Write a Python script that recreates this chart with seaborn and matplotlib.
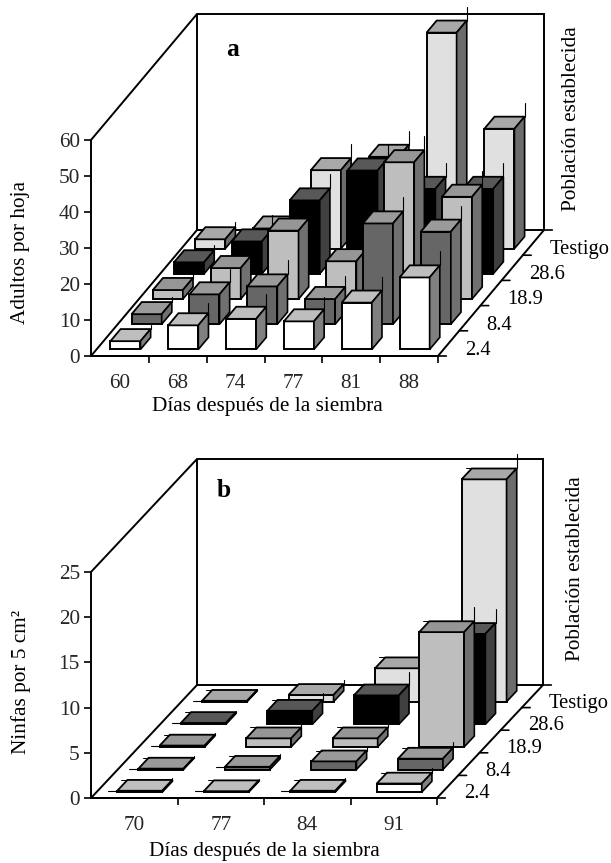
import matplotlib
matplotlib.use("Agg")
from matplotlib import pyplot as plt
from matplotlib import transforms
from matplotlib.patches import Polygon
import seaborn as sns

# values
poblacion = ["2.4", "8.4", "18.9", "28.6", "Testigo"]

dias_a = ["60", "68", "74", "77", "81", "88"]
adultos_24 = [2.3, 6.7, 8.5, 7.8, 13.0, 20.0]
adultos_84 = [2.8, 8.3, 10.5, 7.0, 28.0, 25.7]
adultos_189 = [2.5, 8.6, 19.0, 10.5, 38.0, 28.4]
adultos_286 = [3.2, 9.0, 20.4, 28.7, 23.6, 23.6]
adultos_testigo = [2.6, 5.6, 21.8, 25.5, 60.0, 33.3]

dias_b = ["70", "77", "84", "91"]
ninfas_24 = [0.15, 0.1, 0.15, 0.95]
ninfas_84 = [0.1, 0.3, 0.9, 1.2]
ninfas_189 = [0.15, 0.95, 0.95, 12.7]
ninfas_286 = [0.15, 1.5, 3.2, 10.0]
ninfas_testigo = [0.1, 0.75, 3.7, 24.6]

# front, top and side greys of each row
frente = ["#ffffff", "#666666", "#bebebe", "#000000", "#e0e0e0"]
tapa = ["#bebebe", "#9a9a9a", "#969696", "#585858", "#a8a8a8"]
lado = ["#808080", "#707070", "#707070", "#404040", "#6c6c6c"]

W, H = 611, 863
sns.set_theme(style="white")
plt.rcParams["font.family"] = ["Liberation Serif", "DejaVu Serif"]
fs = 15.3


def fig_text(fig, x, y, s, **kw):
    fig.text(x / W, 1 - y / H, s, ha="center", va="center", color="black", **kw)


def panel(fig, box, dias, series, zmax, zstep, depth_px, side_spikes):
    left, bottom, width, height = box
    ax = fig.add_axes([left / W, 1 - bottom / H, width / W, height / H])
    ax.patch.set_alpha(0)
    n = len(dias)
    # one row of depth, in category units and value units
    dx = depth_px[0] / width * n / 5
    dz = depth_px[1] / height * zmax / 5
    x0, x1 = -0.5, n - 0.5
    px_x = n / width
    px_z = zmax / height

    def walls(xs, ds, zs):
        ax.plot([x + dx * d for x, d in zip(xs, ds)],
                [z + dz * d for z, d in zip(zs, ds)],
                color="black", lw=1.4, clip_on=False, zorder=1,
                solid_joinstyle="miter")

    walls([x0, x1, x1, x0, x0], [0, 0, 5, 5, 0], [0, 0, 0, 0, 0])
    walls([x0, x0, x0], [0, 5, 5], [zmax, zmax, 0])
    walls([x0, x1, x1], [5, 5, 5], [zmax, zmax, 0])

    for r in range(4, -1, -1):
        d0 = r + 0.26
        d1 = d0 + 0.48
        shift = transforms.Affine2D().translate(dx * d0, dz * d0) + ax.transData
        sns.barplot(x=dias, y=series[r], order=dias, color=frente[r], saturation=1,
                    width=0.52, edgecolor="black", linewidth=1.4, errorbar=None,
                    ax=ax, transform=shift, clip_on=False, zorder=3)
        for bar in ax.containers[-1]:
            xa = bar.get_x()
            xb = xa + bar.get_width()
            z = bar.get_height()
            ex, ez = dx * (d1 - d0), dz * (d1 - d0)
            top = [(xa, z), (xb, z), (xb + ex, z + ez), (xa + ex, z + ez)]
            side = [(xb, 0), (xb + ex, ez), (xb + ex, z + ez), (xb, z)]
            ax.add_patch(Polygon(top, closed=True, fc=tapa[r], ec="black", lw=1.3,
                                 transform=shift, clip_on=False, zorder=3))
            ax.add_patch(Polygon(side, closed=True, fc=lado[r], ec="black", lw=1.2,
                                 transform=shift, clip_on=False, zorder=3))
            # the little drawing artefacts on the corners of the bars
            h_px = z / px_z
            sp = min(14, h_px * 0.4 + 1) * px_z
            ax.plot([xb + ex, xb + ex], [z + ez, z + ez + sp], color="black", lw=0.8,
                    transform=shift, clip_on=False, zorder=3)
            if side_spikes:
                ax.plot([xa + ex - 6 * px_x, xa + ex], [z + ez, z + ez], color="black", lw=0.7,
                        transform=shift, clip_on=False, zorder=3)
                if h_px < 4:
                    ax.plot([xa - 9 * px_x, xa], [z, z], color="black", lw=0.8,
                            transform=shift, clip_on=False, zorder=3)

    ax.set_xlim(x0, x1)
    ax.set_ylim(0, zmax)
    ax.set_xlabel("")
    ax.set_ylabel("")
    ax.set_yticks(range(0, zmax + 1, zstep))
    ax.set_xticks(range(n))
    ax.set_xticklabels(dias)
    ax.set_xticks([i + 0.5 for i in range(n)], minor=True)
    ax.tick_params(axis="x", which="major", length=0, pad=13, labelsize=fs)
    ax.tick_params(axis="x", which="minor", length=5, width=1.2, color="black", bottom=True)
    ax.tick_params(axis="y", length=5, width=1.2, color="black", left=True, pad=3, labelsize=fs)
    sns.despine(ax=ax, top=True, right=True)
    for s in ("left", "bottom"):
        ax.spines[s].set_color("black")
        ax.spines[s].set_linewidth(1.4)

    # depth axis: short ticks and population labels
    for i in range(6):
        ax.annotate("", xy=(x1 + dx * i, dz * i), xytext=(6, 0), textcoords="offset points",
                    arrowprops=dict(arrowstyle="-", color="black", lw=1.2, shrinkA=0, shrinkB=0),
                    annotation_clip=False)
    for r, lab in enumerate(poblacion):
        ax.annotate(lab, xy=(x1 + dx * (r + 0.5), dz * (r + 0.5)), xytext=(12, -5),
                    textcoords="offset points", ha="left", va="center", fontsize=fs - 0.5,
                    color="black", annotation_clip=False)
    return ax


fig = plt.figure(figsize=(W / 100, H / 100), dpi=100, facecolor="white")

panel(fig, (91, 356, 347, 216), dias_a,
      [adultos_24, adultos_84, adultos_189, adultos_286, adultos_testigo],
      60, 10, (106, 126), False)
fig_text(fig, 267, 407, "Días después de la siembra", fontsize=fs)
fig_text(fig, 21, 253, "Adultos por hoja", fontsize=fs, rotation=90)
fig_text(fig, 571, 119, "Población establecida", fontsize=fs, rotation=90)
fig_text(fig, 233, 49, "a", fontsize=fs + 3, fontweight="bold")

panel(fig, (91, 798, 346, 226), dias_b,
      [ninfas_24, ninfas_84, ninfas_189, ninfas_286, ninfas_testigo],
      25, 5, (106, 113), True)
fig_text(fig, 264, 851, "Días después de la siembra", fontsize=fs)
fig_text(fig, 21, 682, "Ninfas por 5 cm²", fontsize=fs, rotation=90)
fig_text(fig, 575, 569, "Población establecida", fontsize=fs, rotation=90)
fig_text(fig, 224, 490, "b", fontsize=fs + 3, fontweight="bold")

fig.savefig("out.png", dpi=100)
